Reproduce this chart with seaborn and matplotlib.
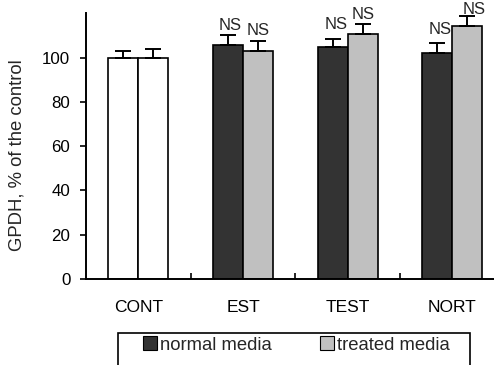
import matplotlib
matplotlib.use("Agg")
import matplotlib.pyplot as plt
import seaborn as sns
import pandas as pd
import numpy as np
from matplotlib.patches import Patch, Rectangle

# ---- data ----
categories = ["CONT", "EST", "TEST", "NORT"]
media = ["normal media", "treated media"]
normal_values = [100.0, 105.9, 104.8, 101.9]
treated_values = [100.0, 102.8, 110.5, 114.1]
normal_err = [2.8, 4.5, 3.6, 4.7]
treated_err = [3.7, 4.7, 4.5, 4.7]
ns_labels = [["", ""], ["NS", "NS"], ["NS", "NS"], ["NS", "NS"]]
y_ticks = [0, 20, 40, 60, 80, 100]

# layout: baseline heights of the NS annotations (data units)
ns_y = [[None, None], [112.6, 110.0], [113.0, 117.6], [110.5, 119.8]]
ns_dx = [[0, 0], [0.02, 0.0], [0.03, 0.0], [0.03, 0.06]]

df = pd.DataFrame({
    "category": categories * 2,
    "media": [media[0]] * 4 + [media[1]] * 4,
    "value": normal_values + treated_values,
    "err": normal_err + treated_err,
})

sns.set_style("ticks")
plt.rcParams["font.family"] = ["Liberation Sans", "DejaVu Sans"]
plt.rcParams["font.size"] = 12

W, H = 494, 365
fig = plt.figure(figsize=(W / 100, H / 100), dpi=100)
ax = fig.add_axes([86 / W, 1 - 279 / H, (W - 86) / W, (279 - 13.3) / H])

dark = "#333333"
light = "#c0c0c0"
sns.barplot(data=df, x="category", y="value", hue="media", order=categories,
            hue_order=media, palette=[dark, light], width=0.573, gap=0,
            errorbar=None, edgecolor="black", linewidth=1.2, legend=False, ax=ax)

bars = sorted([p for p in ax.patches if p.get_height() > 0], key=lambda p: p.get_x())
for i, p in enumerate(bars):
    ci, hi = divmod(i, 2)
    if categories[ci] == "CONT":
        p.set_facecolor("white")
    xc = p.get_x() + p.get_width() / 2
    val = p.get_height()
    err = (normal_err if hi == 0 else treated_err)[ci]
    ax.errorbar([xc], [val], yerr=[[0], [err]], fmt="none", ecolor="black",
                elinewidth=1.4, capsize=5.8, capthick=1.4, zorder=1)
    lab = ns_labels[ci][hi]
    if lab:
        ax.text(xc + ns_dx[ci][hi], ns_y[ci][hi], lab, ha="center", va="baseline",
                fontsize=12, clip_on=False)

ax.set_xlim(-0.5, -0.5 + (W - 86) / 104.7)
ax.set_ylim(0, 120)
ax.set_yticks(y_ticks)
ax.set_xticks(range(len(categories)))
ax.set_xticklabels(categories)
ax.set_xticks([0.5, 1.5, 2.5], minor=True)
ax.tick_params(axis="x", which="major", length=0, pad=15, labelsize=12.5, colors="black")
ax.tick_params(axis="x", which="minor", direction="in", length=4.3, width=1.2, colors="black")
ax.tick_params(axis="y", direction="out", length=4.3, width=1.2, pad=7, labelsize=12.2, colors="black")
ax.set_xlabel("")
ax.set_ylabel("GPDH, % of the control", fontsize=13.3)
ax.yaxis.set_label_coords((26 - 86) / (W - 86), 0.465)
for s in ["top", "right"]:
    ax.spines[s].set_visible(False)
for s in ["left", "bottom"]:
    ax.spines[s].set_linewidth(1.4)
    ax.spines[s].set_color("black")

handles = [Patch(facecolor=dark, edgecolor="black", linewidth=0.8),
           Patch(facecolor=light, edgecolor="black", linewidth=0.8)]
fig.legend(handles, media, loc="center", bbox_to_anchor=(296.5 / W, 1 - 345 / H),
           ncol=2, frameon=False, fontsize=13.3, handlelength=0.78, handleheight=0.78,
           handletextpad=0.15, columnspacing=2.6, borderpad=0)
fig.patches.append(Rectangle((118 / W, -0.1), (470 - 118) / W, (1 - 333 / H) + 0.1,
                             transform=fig.transFigure, fill=False, edgecolor="black",
                             linewidth=1.2))

fig.savefig("out.png", dpi=100)
